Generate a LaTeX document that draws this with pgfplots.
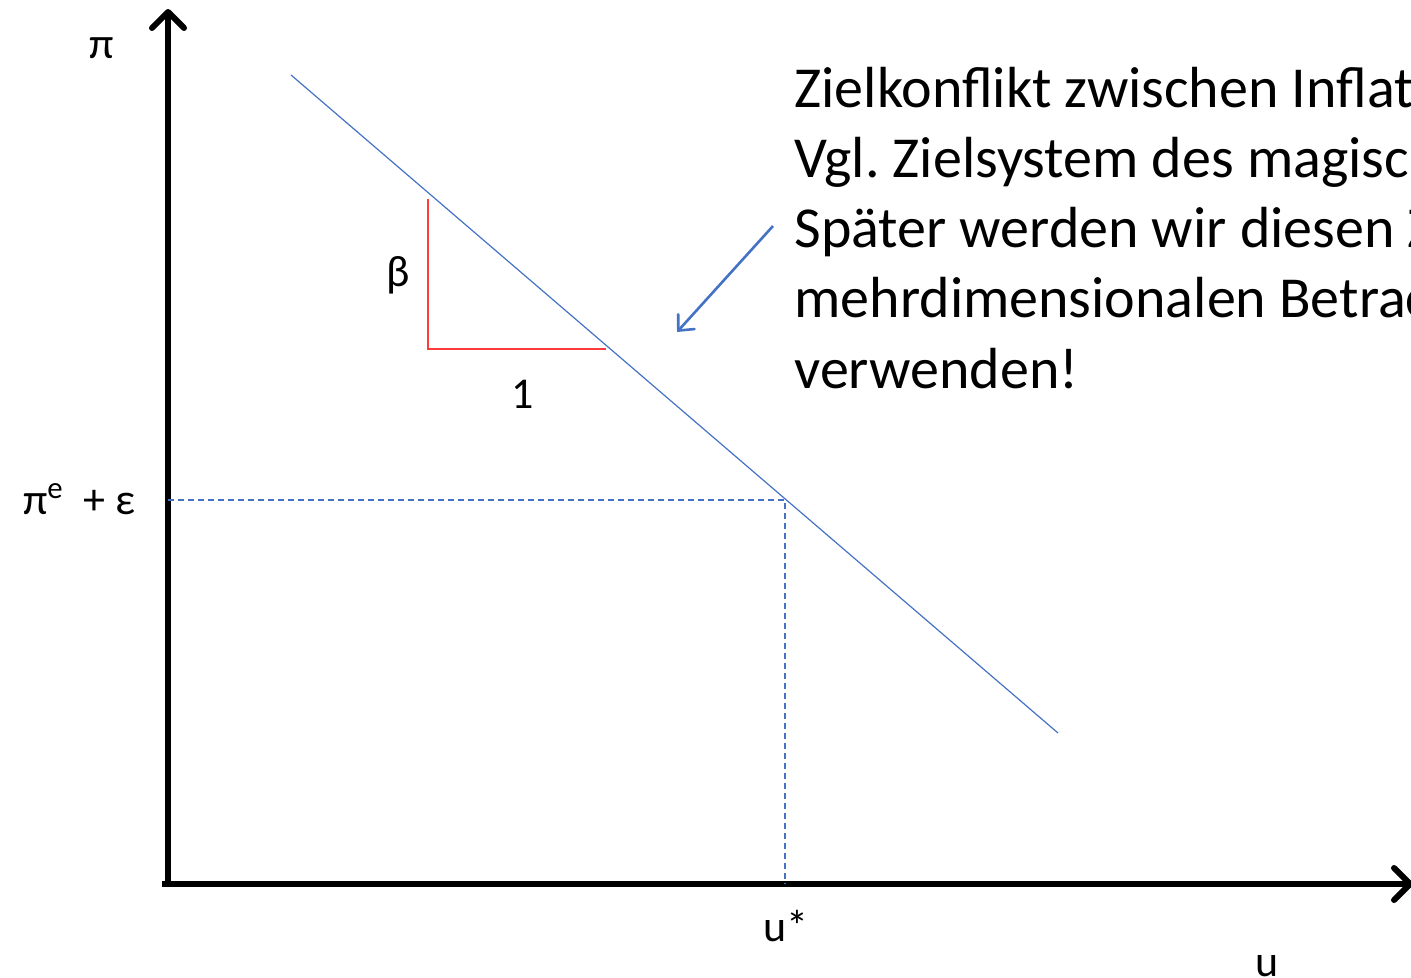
\documentclass[border=0pt]{standalone}
\usepackage{pgfplots}
\pgfplotsset{compat=1.18}
\usepackage{fontspec}
\setmainfont{Carlito}
\usetikzlibrary{arrows.meta}
\definecolor{offblue}{HTML}{4472C4}
\definecolor{slopered}{HTML}{FF3B3B}
\tikzset{
  lab/.style={anchor=base, font=\fontsize{22}{26}\selectfont},
  big/.style={anchor=base west, inner sep=0pt, font=\fontsize{29}{35}\selectfont},
}
\frenchspacing
\begin{document}
\begin{tikzpicture}
\begin{scope}
\clip (0,0) rectangle (705.5pt,489pt);
\begin{axis}[
  at={(0,0)}, anchor=south west,
  width=705.5pt, height=489pt, scale only axis,
  hide axis, clip=false,
  xmin=0, xmax=1411, ymin=0, ymax=978,
  y dir=reverse,
]
% coordinate axes
\addplot[black, line width=3pt, line cap=round,
  -{Straight Barb[length=8pt, width=16pt, line cap=round, line join=round]}]
  coordinates {(168,884) (168,9)};
\addplot[black, line width=3pt,
  -{Straight Barb[length=8pt, width=16pt, line cap=round, line join=round]}]
  coordinates {(162,884) (1413,884)};
% Phillips curve
\addplot[offblue, line width=0.6pt] coordinates {(291,75) (1058,733)};
% equilibrium guide lines
\addplot[offblue, line width=0.6pt, dash pattern=on 3pt off 2pt]
  coordinates {(168,500) (785,500) (785,884)};
% slope triangle
\addplot[slopered, line width=0.7pt] coordinates {(428,199) (428,349) (606,349)};
% pointer arrow
\addplot[offblue, line width=1.3pt,
  -{Straight Barb[length=6pt, width=11pt, line cap=round]}]
  coordinates {(773,226) (677,332)};
% labels
\node[lab] at (102,59) {π};
\node[lab, anchor=base west] at (16,514) {π\textsuperscript{e}\ \ + ε};
\node[lab] at (398,287) {β};
\node[lab] at (523,408) {1};
\node[lab] at (786,941) {u*};
\node[lab] at (1267,976) {u};
% comment text
\node[big] at (794,108) {Zielkonflikt zwischen Inflation und Arbeitslosigkeit};
\node[big] at (794,178) {Vgl. Zielsystem des magischen Vierecks};
\node[big] at (794,248) {Später werden wir diesen Zusammenhang in der};
\node[big] at (794,318) {mehrdimensionalen Betrachtung};
\node[big] at (794,388) {verwenden!};
\end{axis}
\end{scope}
\pgfresetboundingbox
\path[use as bounding box] (0,0) rectangle (705.5pt,489pt);
\end{tikzpicture}
\end{document}
